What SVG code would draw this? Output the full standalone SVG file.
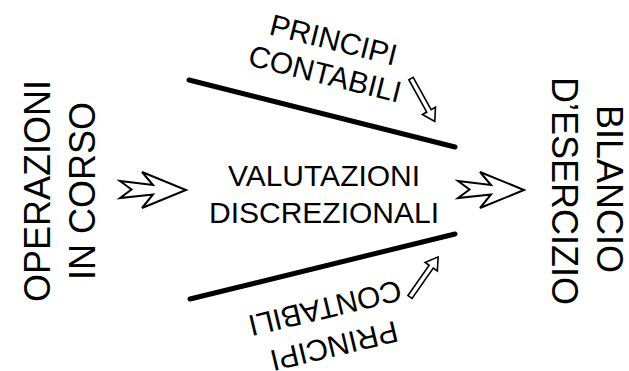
<svg xmlns="http://www.w3.org/2000/svg" width="629" height="371" viewBox="0 0 629 371">
<style>
text{font-family:"Liberation Sans",Arial,sans-serif;fill:#000;text-anchor:middle}
.side{font-size:36px}
.mid{font-size:30px}
.bar{stroke:#000;stroke-width:5;stroke-linecap:round;fill:none}
.big{fill:#fff;stroke:#000;stroke-width:2;stroke-linejoin:miter}
.small{fill:#fff;stroke:#000;stroke-width:1.6;stroke-linejoin:miter}
</style>
<defs>
<polygon id="bigArrow" class="big" points="0,-9 11.5,-0.5 0,8 33,4.5 22,18 66,0 22,-18 33,-5"/>
<polygon id="smallArrow" class="small" points="0,-2.5 37,-2.5 37,-7.5 49,0 37,7.5 37,2.5 0,2.5"/>
</defs>
<rect width="629" height="371" fill="#fff"/>
<g id="connectors">
<line class="bar" x1="189" y1="80" x2="455" y2="147"/>
<line class="bar" x1="190" y1="299" x2="455" y2="234"/>
<use href="#bigArrow" transform="translate(120,190)"/>
<use href="#bigArrow" transform="translate(458,190)"/>
<use href="#smallArrow" transform="translate(411,78.5) rotate(61)"/>
<use href="#smallArrow" transform="translate(410,297) rotate(-55)"/>
</g>
<g id="operazioni">
<text class="side" transform="translate(50,191) rotate(-90)">OPERAZIONI</text>
<text class="side" transform="translate(95,191) rotate(-90)">IN CORSO</text>
</g>
<g id="valutazioni">
<text class="mid" x="324" y="185.5">VALUTAZIONI</text>
<text class="mid" x="324" y="223.3">DISCREZIONALI</text>
</g>
<g id="bilancio">
<text class="side" transform="translate(597,189) rotate(90)">BILANCIO</text>
<text class="side" transform="translate(552,191) rotate(90)">D’ESERCIZIO</text>
</g>
<g id="principi-top" transform="translate(331,50) rotate(14)">
<text class="mid" x="0" y="0">PRINCIPI</text>
<text class="mid" x="0" y="35">CONTABILI</text>
</g>
<g id="principi-bottom" transform="translate(331.7,336) rotate(166.5)">
<text class="mid" x="0" y="0">PRINCIPI</text>
<text class="mid" x="0" y="39">CONTABILI</text>
</g>
</svg>
